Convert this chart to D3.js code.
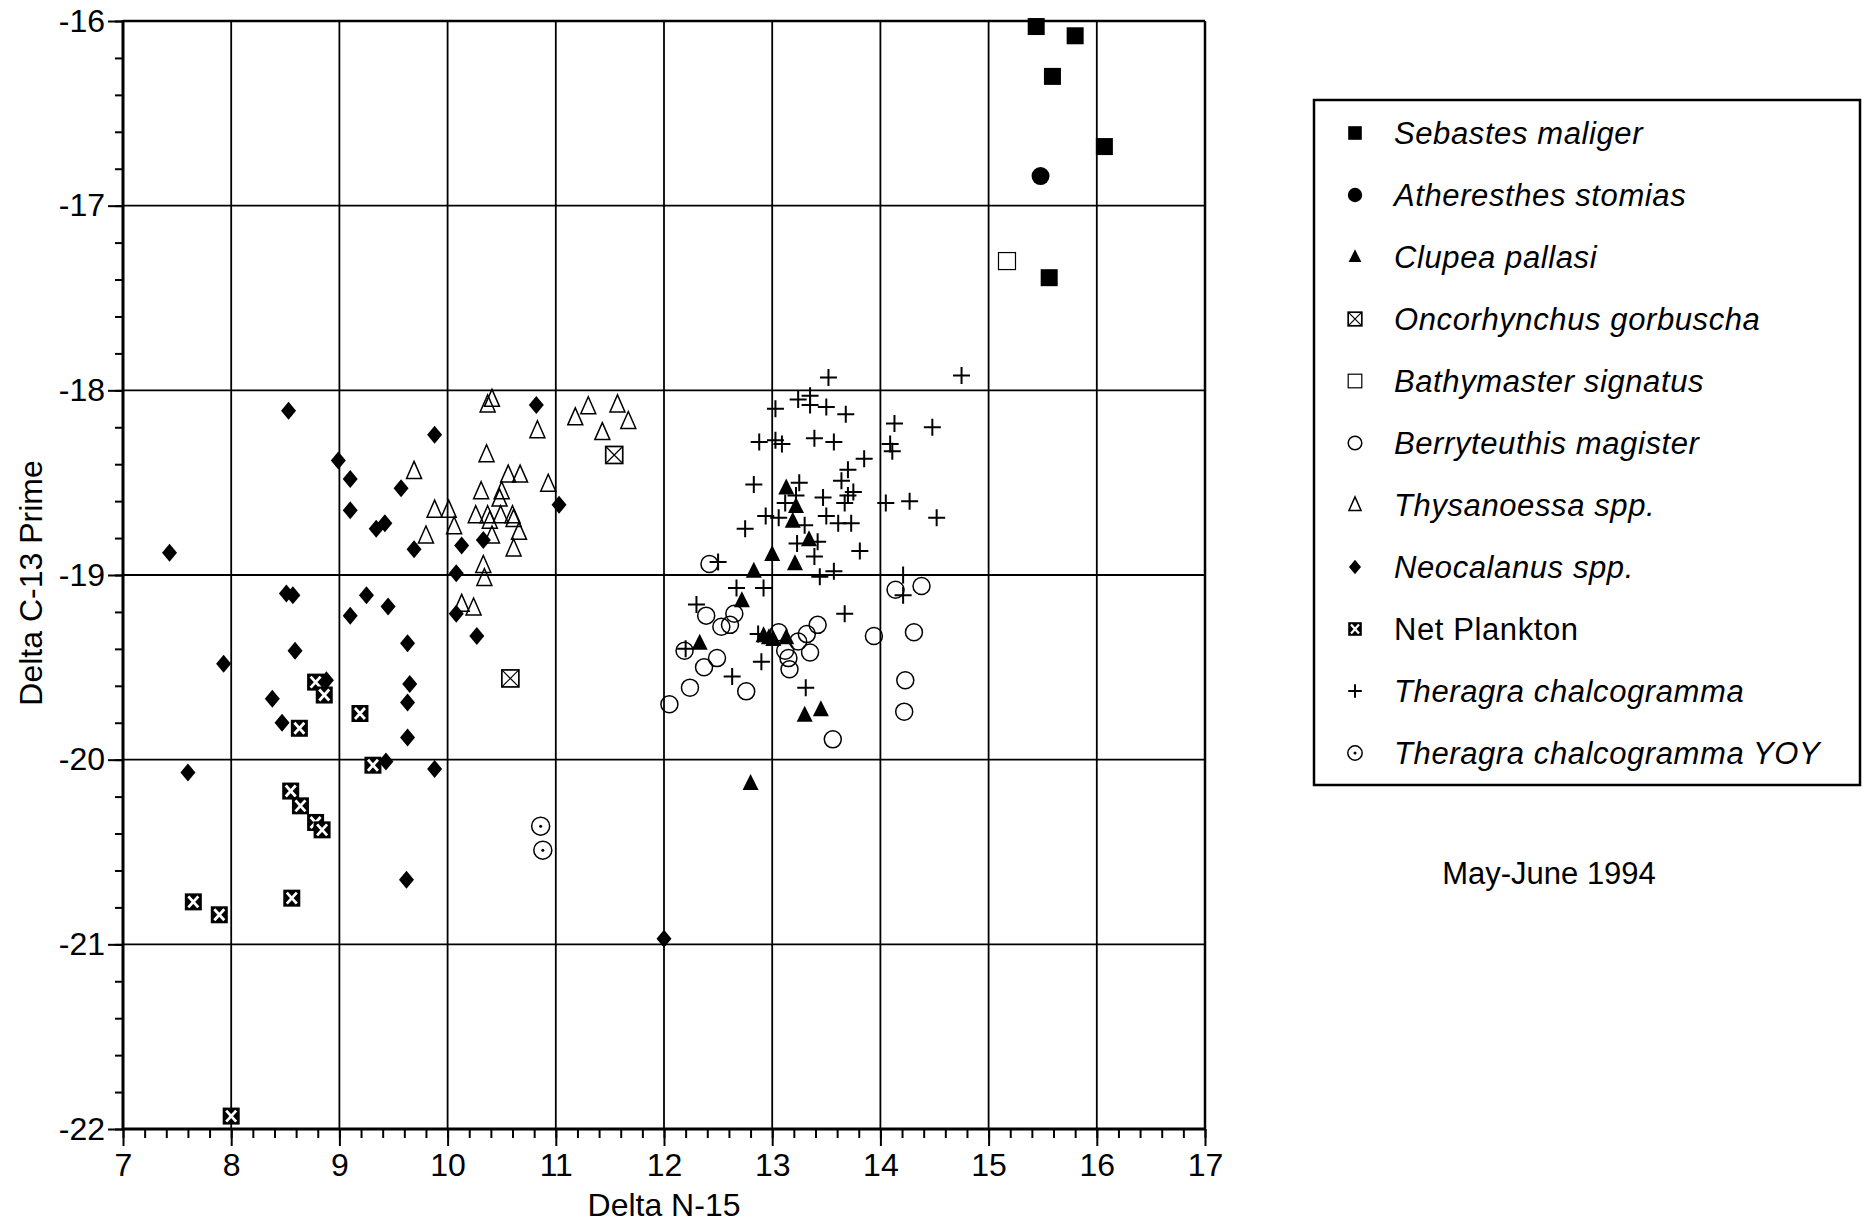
<!DOCTYPE html>
<html><head><meta charset="utf-8">
<script src="https://cdn.jsdelivr.net/npm/d3@7"></script>
<style>
body{margin:0;background:#fff;}
svg{display:block;font-family:"Liberation Sans",Arial,Helvetica,sans-serif;}
</style></head><body>
<svg id="c" width="1868" height="1223"></svg>
<script>
// ---------- DATA ----------
const xTicks = [7, 8, 9, 10, 11, 12, 13, 14, 15, 16, 17];
const yTicks = [-16, -17, -18, -19, -20, -21, -22];
const xTitle = "Delta N-15";
const yTitle = "Delta C-13 Prime";
const noteText = "May-June 1994";

const seriesNames = ["Sebastes maliger", "Atheresthes stomias", "Clupea pallasi",
  "Oncorhynchus gorbuscha", "Bathymaster signatus", "Berryteuthis magister",
  "Thysanoessa spp.", "Neocalanus spp.", "Net Plankton",
  "Theragra chalcogramma", "Theragra chalcogramma YOY"];

const sebastes = [[15.44,-16.03],[15.80,-16.08],[15.59,-16.30],[16.07,-16.68],[15.56,-17.39]];
const atheresthes = [[15.48,-16.84]];
const clupea = [[13.13,-18.53],[13.22,-18.63],[13.19,-18.71],[13.34,-18.81],[13.00,-18.89],
  [13.21,-18.94],[12.83,-18.98],[12.72,-19.14],[12.92,-19.33],[12.97,-19.34],[13.01,-19.35],
  [13.13,-19.34],[12.33,-19.37],[13.30,-19.76],[13.45,-19.73],[12.80,-20.13]];
const oncorhynchus = [[11.54,-18.35],[10.58,-19.56]];
const bathymaster = [[15.17,-17.30]];
const berryteuthis = [[12.42,-18.94],[12.39,-19.22],[12.53,-19.28],[12.61,-19.27],[12.65,-19.21],
  [12.19,-19.41],[12.49,-19.45],[12.37,-19.50],[12.24,-19.61],[12.76,-19.63],[12.05,-19.70],
  [13.06,-19.31],[13.12,-19.41],[13.15,-19.45],[13.16,-19.51],[13.24,-19.36],[13.32,-19.32],
  [13.42,-19.27],[13.35,-19.42],[13.94,-19.33],[14.31,-19.31],[14.23,-19.57],[14.22,-19.74],
  [13.56,-19.89],[14.14,-19.08],[14.38,-19.06]];
const thysanoessa = [[10.41,-18.05],[10.37,-18.08],[11.18,-18.15],[11.30,-18.09],[11.57,-18.08],
  [11.67,-18.17],[11.43,-18.23],[10.83,-18.22],[10.36,-18.35],[9.69,-18.44],[10.56,-18.46],
  [10.67,-18.46],[10.93,-18.51],[10.31,-18.55],[10.50,-18.55],[10.48,-18.59],[9.88,-18.65],
  [10.01,-18.65],[10.26,-18.68],[10.37,-18.68],[10.39,-18.71],[10.49,-18.68],[10.60,-18.68],
  [10.61,-18.70],[10.06,-18.74],[10.41,-18.79],[10.66,-18.77],[10.61,-18.86],[9.80,-18.79],
  [10.33,-18.95],[10.34,-19.02],[10.13,-19.16],[10.24,-19.18]];
const neocalanus = [[8.53,-18.11],[9.88,-18.24],[8.99,-18.38],[9.10,-18.48],[9.10,-18.65],
  [9.57,-18.53],[10.82,-18.08],[11.03,-18.62],[9.34,-18.75],[9.42,-18.72],[9.69,-18.86],
  [10.13,-18.84],[10.33,-18.81],[10.08,-18.99],[8.51,-19.10],[8.57,-19.11],[9.25,-19.11],
  [9.45,-19.17],[9.10,-19.22],[10.08,-19.21],[10.27,-19.33],[8.59,-19.41],[9.63,-19.37],
  [7.43,-18.88],[7.93,-19.48],[9.65,-19.59],[8.38,-19.67],[9.63,-19.69],[8.47,-19.80],
  [9.63,-19.88],[9.43,-20.01],[9.88,-20.05],[7.60,-20.07],[9.62,-20.65],[8.88,-19.57],
  [12.00,-20.97]];
const netPlankton = [[8.78,-19.58],[8.86,-19.65],[9.19,-19.75],[8.63,-19.83],[9.31,-20.03],
  [8.55,-20.17],[8.64,-20.25],[8.78,-20.34],[8.84,-20.38],[7.65,-20.77],[7.89,-20.84],
  [8.56,-20.75],[8.00,-21.93]];
const theragra = [[13.52,-17.93],[14.75,-17.92],[13.24,-18.05],[13.35,-18.03],[13.35,-18.08],
  [13.50,-18.09],[13.68,-18.13],[13.03,-18.10],[12.88,-18.28],[13.03,-18.27],[13.09,-18.29],
  [13.39,-18.26],[13.57,-18.28],[14.13,-18.18],[14.48,-18.20],[14.09,-18.29],[14.11,-18.33],
  [13.85,-18.37],[13.70,-18.43],[13.64,-18.49],[13.75,-18.55],[13.70,-18.57],[13.67,-18.61],
  [13.25,-18.50],[12.83,-18.51],[13.22,-18.57],[13.47,-18.58],[14.05,-18.61],[14.27,-18.60],
  [14.52,-18.69],[12.94,-18.68],[13.06,-18.69],[13.12,-18.61],[13.50,-18.68],[13.61,-18.72],
  [13.73,-18.72],[13.30,-18.73],[13.23,-18.83],[13.42,-18.82],[13.39,-18.90],[13.81,-18.87],
  [13.57,-18.98],[13.44,-19.01],[14.21,-19.00],[12.92,-19.07],[14.21,-19.11],[13.67,-19.21],
  [12.75,-18.75],[12.50,-18.93],[12.67,-19.07],[12.30,-19.16],[12.87,-19.32],[12.20,-19.40],
  [12.90,-19.47],[12.63,-19.55],[13.31,-19.61]];
const theragraYOY = [[10.86,-20.36],[10.88,-20.49]];

const seriesData = [sebastes, atheresthes, clupea, oncorhynchus, bathymaster, berryteuthis,
  thysanoessa, neocalanus, netPlankton, theragra, theragraYOY];
const seriesShapes = ["fsquare","fcircle","ftriangle","xsquare","osquare","ocircle",
  "otriangle","diamond","netbox","plus","dotcircle"];

// ---------- LAYOUT ----------
const svg = d3.select("#c");
const m = {l:123, r:1205, t:21, b:1129};
const x = d3.scaleLinear().domain([7,17]).range([m.l, m.r]);
const y = d3.scaleLinear().domain([-22,-16]).range([m.b, m.t]);

// grid
const grid = svg.append("g").attr("stroke","#000").attr("stroke-width",1.8);
grid.selectAll("line.v").data(xTicks.slice(1,-1)).join("line")
  .attr("x1",d=>x(d)).attr("x2",d=>x(d)).attr("y1",m.t).attr("y2",m.b);
grid.selectAll("line.h").data(yTicks.slice(1,-1)).join("line")
  .attr("x1",m.l).attr("x2",m.r).attr("y1",d=>y(d)).attr("y2",d=>y(d));

// axes
function styleAxis(g){
  g.select(".domain").remove();
  g.selectAll(".tick line").attr("stroke","#000").attr("stroke-width",2);
  g.selectAll(".tick text").attr("fill","#000").attr("font-size",32)
    .attr("font-family",'"Liberation Sans",Arial,sans-serif');
}
svg.append("g").attr("transform",`translate(0,${m.b})`)
  .call(d3.axisBottom(x).ticks(50).tickSize(9).tickFormat(""))
  .call(styleAxis);
svg.append("g").attr("transform",`translate(0,${m.b})`)
  .call(d3.axisBottom(x).tickValues(xTicks).tickSize(17).tickPadding(7).tickFormat(d=>String(d)))
  .call(styleAxis);
svg.append("g").attr("transform",`translate(${m.l},0)`)
  .call(d3.axisLeft(y).ticks(30).tickSize(8).tickFormat(""))
  .call(styleAxis);
svg.append("g").attr("transform",`translate(${m.l},0)`)
  .call(d3.axisLeft(y).tickValues(yTicks).tickSize(15).tickPadding(3).tickFormat(d=>String(d)))
  .call(styleAxis);

// frame
svg.append("line").attr("x1",m.l).attr("x2",m.r).attr("y1",m.t).attr("y2",m.t).attr("stroke","#000").attr("stroke-width",2.5);
svg.append("line").attr("x1",m.r).attr("x2",m.r).attr("y1",m.t).attr("y2",m.b).attr("stroke","#000").attr("stroke-width",2.5);
svg.append("line").attr("x1",m.l).attr("x2",m.l).attr("y1",m.t-1).attr("y2",m.b+1).attr("stroke","#000").attr("stroke-width",3);
svg.append("line").attr("x1",m.l).attr("x2",m.r).attr("y1",m.b).attr("y2",m.b).attr("stroke","#000").attr("stroke-width",3);

// titles
svg.append("text").attr("x",(m.l+m.r)/2).attr("y",1216).attr("text-anchor","middle")
  .attr("font-size",32).text(xTitle);
svg.append("text").attr("transform",`translate(42,${(m.t+m.b)/2 + 8}) rotate(-90)`).attr("text-anchor","middle")
  .attr("font-size",32).text(yTitle);

// markers
function drawMarker(g, shape, k){
  const s = 17*k;
  switch(shape){
    case "fsquare":
      g.append("rect").attr("x",-s/2).attr("y",-s/2).attr("width",s).attr("height",s).attr("fill","#000"); break;
    case "osquare":
      g.append("rect").attr("x",-s/2).attr("y",-s/2).attr("width",s).attr("height",s)
        .attr("fill","#fff").attr("stroke","#000").attr("stroke-width",1.2); break;
    case "xsquare":
      g.append("rect").attr("x",-s/2).attr("y",-s/2).attr("width",s).attr("height",s)
        .attr("fill","#fff").attr("stroke","#000").attr("stroke-width",1.7);
      g.append("path").attr("d",`M${-s/2},${-s/2}L${s/2},${s/2}M${s/2},${-s/2}L${-s/2},${s/2}`)
        .attr("stroke","#000").attr("stroke-width",1.2); break;
    case "netbox":
      g.append("rect").attr("x",-s/2).attr("y",-s/2).attr("width",s).attr("height",s).attr("fill","#000");
      g.append("path").attr("d",`M${-s/2+3.5*k},${-s/2+3*k}L${s/2-3.5*k},${s/2-3*k}M${s/2-3.5*k},${-s/2+3*k}L${-s/2+3.5*k},${s/2-3*k}`)
        .attr("stroke","#fff").attr("stroke-width",2.8*k); break;
    case "fcircle":
      g.append("circle").attr("r",9*k).attr("fill","#000"); break;
    case "ocircle":
      g.append("circle").attr("r",8.5*k).attr("fill","none").attr("stroke","#000").attr("stroke-width",1.5); break;
    case "dotcircle":
      g.append("circle").attr("r",9*k).attr("fill","none").attr("stroke","#000").attr("stroke-width",1.5);
      g.append("circle").attr("r",1.5).attr("fill","#000"); break;
    case "ftriangle": {
      const w=16*k, h=16*k;
      g.append("path").attr("d",`M0,${-h*0.6}L${w/2},${h*0.4}L${-w/2},${h*0.4}Z`).attr("fill","#000"); break; }
    case "otriangle": {
      const w=15*k, h=17*k;
      g.append("path").attr("d",`M0,${-h*0.6}L${w/2},${h*0.4}L${-w/2},${h*0.4}Z`)
        .attr("fill","none").attr("stroke","#000").attr("stroke-width",1.5); break; }
    case "diamond": {
      const w=15*k, h=18*k;
      g.append("path").attr("d",`M0,${-h/2}L${w/2},0L0,${h/2}L${-w/2},0Z`).attr("fill","#000"); break; }
    case "plus": {
      const a=8.5*k;
      g.append("path").attr("d",`M${-a},0H${a}M0,${-a}V${a}`).attr("stroke","#000").attr("stroke-width",2); break; }
  }
}

const pts = svg.append("g");
seriesData.forEach((data, i) => {
  pts.selectAll(null).data(data).join("g")
    .attr("transform", d => `translate(${x(d[0])},${y(d[1])})`)
    .each(function(){ drawMarker(d3.select(this), seriesShapes[i], 1); });
});

// legend
const lg = svg.append("g");
lg.append("rect").attr("x",1314).attr("y",100).attr("width",546).attr("height",685)
  .attr("fill","none").attr("stroke","#000").attr("stroke-width",2.5);
const ly = d3.scalePoint().domain(seriesNames).range([133, 753]);
seriesNames.forEach((name, i) => {
  const g = lg.append("g").attr("transform",`translate(1355,${ly(name)})`);
  drawMarker(g, seriesShapes[i], 0.8);
  lg.append("text").attr("x",1394).attr("y",ly(name)+11).attr("font-size",31)
    .attr("letter-spacing",0.6)
    .attr("font-style", name === "Net Plankton" ? "normal" : "italic").text(name);
});
svg.append("text").attr("x",1549).attr("y",884).attr("text-anchor","middle")
  .attr("font-size",31).text(noteText);
</script>
</body></html>
